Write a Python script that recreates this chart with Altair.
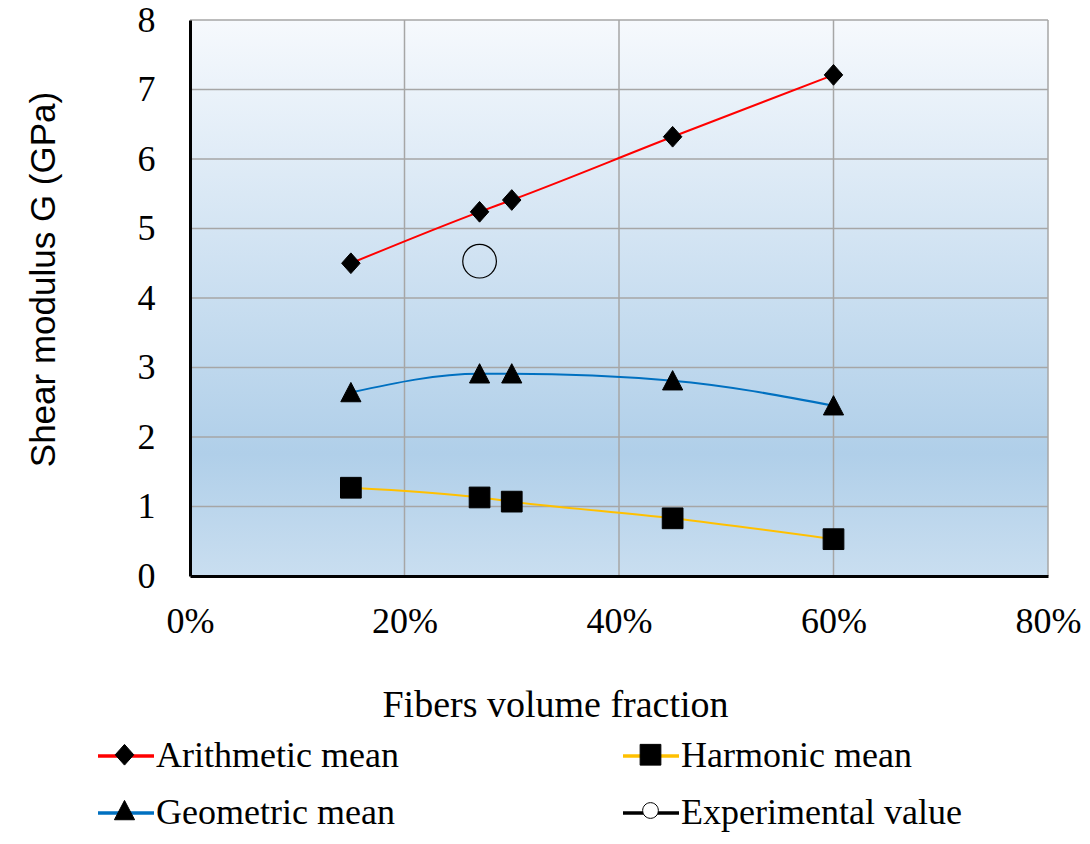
import altair as alt
import pandas as pd

# ---- data ----
vol_frac = [0.15, 0.27, 0.30, 0.45, 0.60]
arithmetic = [4.50, 5.24, 5.41, 6.32, 7.21]
harmonic = [1.27, 1.13, 1.07, 0.83, 0.53]
geometric = [2.64, 2.91, 2.91, 2.81, 2.45]
exp_frac = [0.27]
exp_value = [4.53]

# legend is filled column by column: col 1 = Arithmetic, Geometric; col 2 = Harmonic, Experimental
series_names = ["Arithmetic mean", "Geometric mean", "Harmonic mean", "Experimental value"]
line_colors = ["#ff0000", "#0070c0", "#ffc000", "#000000"]
marker_fills = ["#000000", "#000000", "#000000", "#ffffff"]
marker_strokes = ["#000000", "#000000", "#000000", "#000000"]
x_ticks = [0.0, 0.2, 0.4, 0.6, 0.8]
y_ticks = [0, 1, 2, 3, 4, 5, 6, 7, 8]

marker_names = [n + " " for n in series_names]  # distinct domain so the two legends stay separate

rows = []
for name, vals in [("Arithmetic mean", arithmetic), ("Harmonic mean", harmonic), ("Geometric mean", geometric)]:
    for xv, yv in zip(vol_frac, vals):
        rows.append({"vf": xv, "G": yv, "series": name, "series2": name + " "})
for xv, yv in zip(exp_frac, exp_value):
    rows.append({"vf": xv, "G": yv, "series": "Experimental value", "series2": "Experimental value "})
df = pd.DataFrame(rows)
df_lines = df
df_pts = df[df["series"] != "Experimental value"]
df_exp = df[df["series"] == "Experimental value"]

bg = pd.DataFrame({"vf": [x_ticks[0]], "vf2": [x_ticks[-1]], "G": [y_ticks[0]], "G2": [y_ticks[-1]]})
gx = pd.DataFrame({"vf": x_ticks[1:]})
gy = pd.DataFrame({"G": y_ticks[1:]})

SERIF = "Liberation Serif"
SANS = "Liberation Sans"
W, H = 858, 556

x_axis = alt.Axis(values=x_ticks, format=".0%", grid=False, ticks=False, tickSize=0,
                  domainColor="black", domainWidth=3, zindex=1, labelFlush=False,
                  labelFont=SERIF, labelFontSize=36, labelColor="black", labelPadding=28,
                  title="Fibers volume fraction", titleFont=SERIF, titleFontSize=38,
                  titleFontWeight="normal", titleColor="black", titleX=365, titleY=110,
                  titleBaseline="top")
y_axis = alt.Axis(values=y_ticks, grid=False, ticks=False, tickSize=0,
                  domainColor="black", domainWidth=3, zindex=1, labelFlush=False,
                  labelFont=SERIF, labelFontSize=36, labelColor="black", labelPadding=35,
                  title="Shear modulus G (GPa)", titleFont=SANS, titleFontSize=35,
                  titleFontWeight="normal", titleColor="black", titleX=-147, titleY=259,
                  titleAngle=270, titleBaseline="middle")

xs = alt.Scale(domain=[0, 0.8], nice=False)
ys = alt.Scale(domain=[0, 8], nice=False)

X = alt.X("vf:Q", scale=xs, axis=x_axis, title="Fibers volume fraction")
Y = alt.Y("G:Q", scale=ys, axis=y_axis, title="Shear modulus G (GPa)")

gradient = alt.LinearGradient(
    gradient="linear",
    stops=[alt.GradientStop(color="#f6f9fd", offset=0),
           alt.GradientStop(color="#b0cfe9", offset=0.78),
           alt.GradientStop(color="#c9def0", offset=1)],
    x1=0, x2=0, y1=0, y2=1)

background = alt.Chart(bg).mark_rect(color=gradient).encode(
    x=X, x2="vf2:Q", y=Y, y2="G2:Q")

grid_x = alt.Chart(gx).mark_rule(color="#a6a6a6", strokeWidth=1.5).encode(x=X)
grid_y = alt.Chart(gy).mark_rule(color="#a6a6a6", strokeWidth=1.5).encode(y=Y)

common_leg = dict(orient="none", legendX=-94, legendY=706, columns=2, title=None,
                  labelFont=SERIF, labelFontSize=36, labelLimit=500, labelOffset=0,
                  symbolSize=3136, rowPadding=9)

lines = alt.Chart(df_lines).mark_line(strokeWidth=2, interpolate="monotone").encode(
    x=X, y=Y,
    color=alt.Color("series:N", scale=alt.Scale(domain=series_names, range=line_colors),
                    legend=alt.Legend(symbolType="stroke", symbolStrokeWidth=3.5,
                                      labelColor="black", zindex=1, columnPadding=217,
                                      **common_leg)),
    detail="series:N")

shape_paths = [
    "M0,-0.37L0.33,0L0,0.37L-0.33,0Z",
    "M0,-0.36L0.36,0.33L-0.36,0.33Z",
    "M-0.37,-0.37H0.37V0.37H-0.37Z",
    "M0.28,0A0.28,0.28,0,1,1,-0.28,0A0.28,0.28,0,1,1,0.28,0Z",
]

marker_leg = alt.Legend(labelExpr="''", zindex=2, symbolStrokeWidth=1, columnPadding=469,
                        symbolOpacity=1, **common_leg)

points = alt.Chart(df_pts).mark_point(filled=True, size=3136, opacity=1, strokeWidth=1).encode(
    x=X, y=Y,
    shape=alt.Shape("series2:N", scale=alt.Scale(domain=marker_names, range=shape_paths),
                    legend=marker_leg),
    fill=alt.Fill("series2:N", scale=alt.Scale(domain=marker_names, range=marker_fills),
                  legend=marker_leg),
    stroke=alt.Stroke("series2:N", scale=alt.Scale(domain=marker_names, range=marker_strokes),
                      legend=marker_leg))

experimental = alt.Chart(df_exp).mark_point(shape="circle", size=1134, filled=False,
                                             color="black", strokeWidth=1.2, opacity=1).encode(x=X, y=Y)

chart = alt.layer(background, grid_x, grid_y, lines, points, experimental).properties(
    width=W, height=H,
    autosize=alt.AutoSizeParams(type="none"),
    padding={"left": 182, "top": 12, "right": 34, "bottom": 256},
    background="white",
).configure_view(strokeWidth=0).configure_legend(padding=0)

chart.save("out.html", embed_options={"renderer": "svg", "actions": False})
